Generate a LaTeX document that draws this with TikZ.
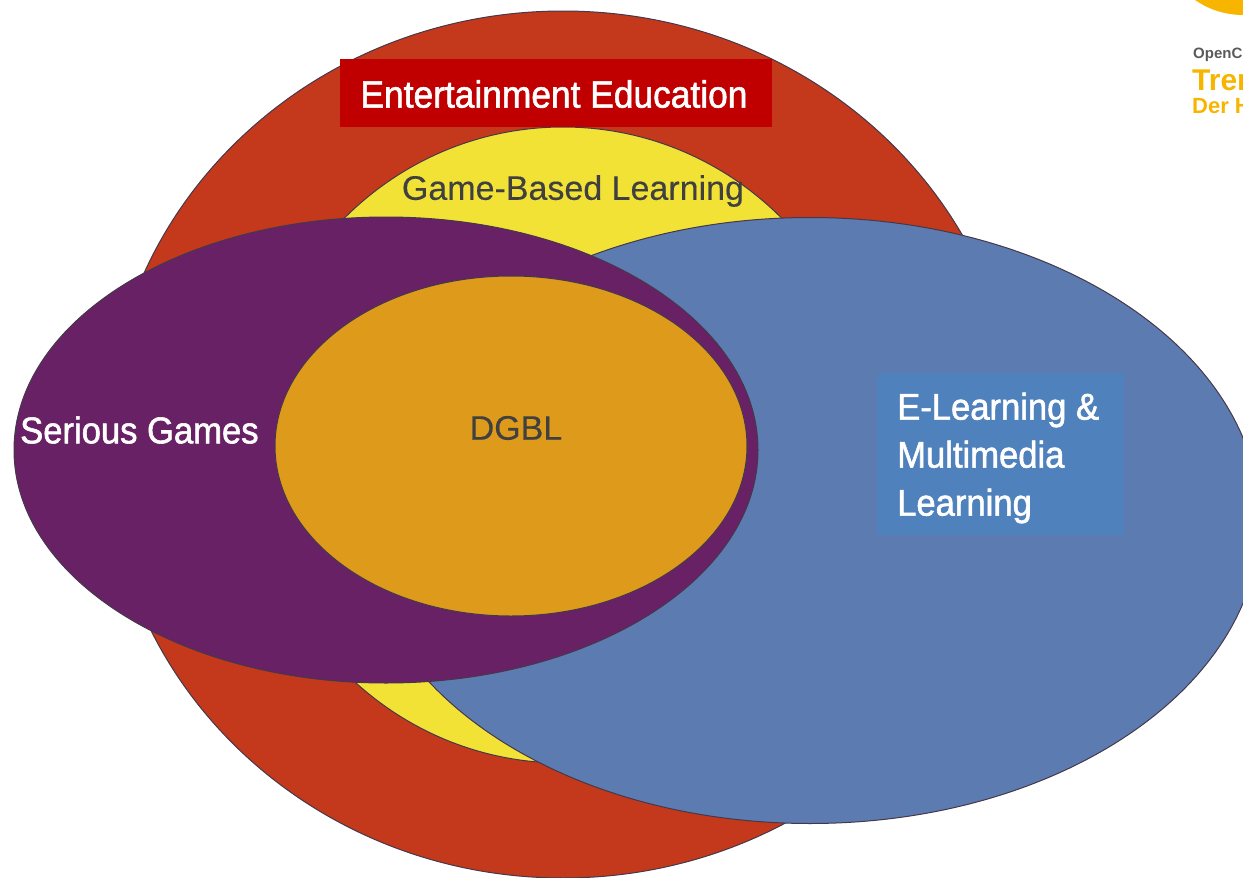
\documentclass[tikz,border=0pt]{standalone}
\usepackage{fontspec}
\setmainfont{Liberation Sans}
\newfontfamily\narrowb[FakeStretch=0.93,FakeBold=1.5]{Liberation Sans}
\newfontfamily\greyt[FakeBold=0.25]{Liberation Sans}
\definecolor{redc}{HTML}{C4391C}
\definecolor{yel}{HTML}{F2E236}
\definecolor{pur}{HTML}{692166}
\definecolor{blu}{HTML}{5C7BB0}
\definecolor{org}{HTML}{DE9A1A}
\definecolor{boxred}{HTML}{C00000}
\definecolor{boxblu}{HTML}{4F81BD}
\definecolor{logo}{HTML}{F7B500}
\definecolor{edge}{HTML}{45384A}
\tikzset{
 blob/.style={draw=edge,line width=1pt},
 lab/.style={font=\narrowb\fontsize{38pt}{48pt}\selectfont,text=white,inner sep=0pt},
 labs/.style={font=\narrowb\fontsize{37.2pt}{48pt}\selectfont,text=white,inner sep=0pt},
 dark/.style={font=\greyt\fontsize{34pt}{34pt}\selectfont,text=black!75,inner sep=0pt},
 logotxt/.style={anchor=west,inner sep=0pt,text=logo},
}
\begin{document}
\begin{tikzpicture}[x=1pt,y=-1pt]
\useasboundingbox (0,0) rectangle (1243,878);
\clip (0,0) rectangle (1243,878);
\fill[logo] (1243,-69) circle (84);
\draw[blob,fill=redc] (563,444.5) ellipse [x radius=456,y radius=433.5];
\draw[blob,fill=yel] (563,445) ellipse [x radius=312,y radius=318];
\draw[blob,fill=blu] (810,520.5) ellipse [x radius=450,y radius=303];
\draw[blob,fill=pur] (386,450) ellipse [x radius=372,y radius=233];
\draw[blob,fill=org] (511,446) ellipse [x radius=236,y radius=170];
\node[fill=boxred,minimum width=432,minimum height=68,inner sep=0] (ee) at (556,93) {};
\node[lab] (eet) at (554,94) {Entertainment Education};
\node[dark] (gbl) at (573,191) {Game-Based Learning};
\node[dark] (dgbl) at (516,428) {DGBL};
\node[labs,anchor=west] (sg) at (20,430) {Serious Games};
\node[fill=boxblu,minimum width=247,minimum height=162,inner sep=0] (el) at (1000,454) {};
\node[labs,anchor=west,align=left] (elt) at (897,458) {E-Learning \&\\Multimedia\\Learning};
\node[logotxt,font=\bfseries\fontsize{15pt}{15pt}\selectfont,text=black!65] (o1) at (1193,55) {OpenC};
\node[logotxt,font=\bfseries\fontsize{30pt}{30pt}\selectfont] (o2) at (1192,80) {Tren};
\node[logotxt,font=\bfseries\fontsize{22pt}{22pt}\selectfont] (o3) at (1192,106) {Der H};
\end{tikzpicture}
\end{document}
